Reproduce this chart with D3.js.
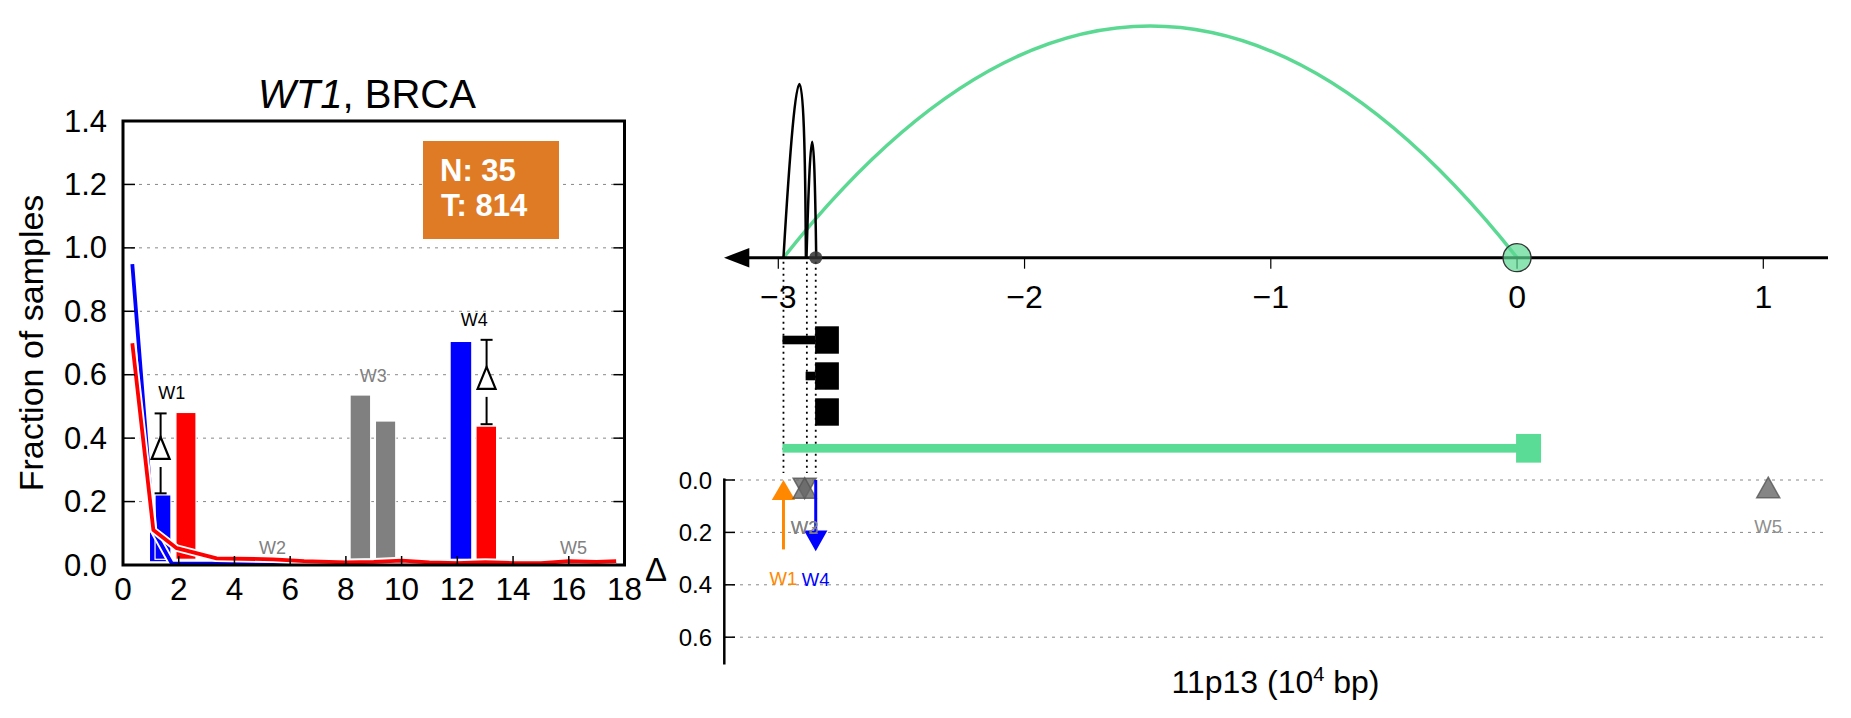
<!DOCTYPE html>
<html><head><meta charset="utf-8">
<script src="https://cdn.jsdelivr.net/npm/d3@7"></script>
<style>body{margin:0;background:#fff;} svg text{font-family:"Liberation Sans",Arial,Helvetica,sans-serif;}</style>
</head><body>
<svg id="c" width="1851" height="718" style="background:#fff"></svg>
<script>
// ---------------- DATA ----------------
// Left panel: fraction of samples per window
const yTicksL = [0, 0.2, 0.4, 0.6, 0.8, 1.0, 1.2, 1.4];
const xTicksL = [0, 2, 4, 6, 8, 10, 12, 14, 16, 18];
const barX0 = [1.15, 1.90, 8.15, 9.06, 11.74, 12.67];
const barX1 = [1.72, 2.62, 8.89, 9.79, 12.52, 13.41];
const barVal = [0.221, 0.481, 0.536, 0.454, 0.705, 0.438];
const barKind = ["N", "T", "ns", "ns", "N", "T"];
const lowBarX = [0.97, 1.72];
const lowBarVal = 0.11;
const blueLineX = [0.334, 1.09, 1.75, 2.5, 3.5, 6, 9, 12, 15, 17.7];
const blueLineY = [0.949, 0.110, 0.005, 0.004, 0.004, 0.003, 0.003, 0.003, 0.003, 0.003];
const redLineX = [0.334, 1.09, 1.93, 3.36, 5.39, 6.5, 8.0, 9.0, 10.0, 11.0, 12.0, 13.0, 14.0, 15.0, 16.0, 17.0, 17.7];
const redLineY = [0.699, 0.110, 0.053, 0.021, 0.018, 0.012, 0.008, 0.010, 0.014, 0.008, 0.006, 0.009, 0.006, 0.006, 0.012, 0.010, 0.012];
const deltaMarkX = [1.35, 13.05];
const deltaMarkY = [0.369, 0.59];
const deltaLo = [0.226, 0.444];
const deltaHi = [0.478, 0.71];
const windows = ["W1", "W2", "W3", "W4", "W5"];
const winLabelX = [1.75, 5.37, 8.98, 12.61, 16.17];
const winLabelY = [0.542, 0.055, 0.596, 0.772, 0.055];
const winSig = [true, false, false, true, false];
const nNormal = 35, nTumor = 814;

// Right panel: genomic track (10^4 bp)
const xTicksR = [-3, -2, -1, 0, 1];
const arcFrom = [-2.979, -2.979, -2.8855];
const arcTo = [0, -2.888, -2.846];
const arcCtrl = [-1.4895, -2.895, -2.859];
const arcH = [1.0, 0.75, 0.50];
const arcColor = ["#5bd993", "#000", "#000"];
const markPos = [-2.979, -2.884, -2.848];
const tssPos = 0;          // circle
const dotPos = -2.848;     // small dark dot
const utrStart = [-2.983, -2.889, null];
const cdsStart = [-2.8505, -2.8505, -2.8505];
const cdsEnd = [-2.754, -2.754, -2.754];
const geneSpan = [-2.983, 0];
const geneEnd = [-0.004, 0.0975];
// Delta panel
const yTicksD = [0.0, 0.2, 0.4, 0.6];
const winPos = [-2.979, -2.893, -2.893, -2.848, 1.02];
const winDelta = [0.265, 0.02, 0.02, 0.272, 0.018];
const winKind = ["up", "nsdown", "nsup", "down", "nsup"];

// ---------------- DRAW ----------------
const svg = d3.select("#c");

// ===== Left panel =====
const xL = d3.scaleLinear([0, 18], [123, 624.5]);
const yL = d3.scaleLinear([0, 1.4], [565, 121]);
const L = svg.append("g");

// gridlines
L.selectAll(".gl").data(yTicksL.filter(d => d > 0 && d < 1.4)).join("line")
  .attr("x1", xL(0)).attr("x2", xL(18)).attr("y1", d => yL(d)).attr("y2", d => yL(d))
  .attr("stroke", "#888").attr("stroke-width", 1).attr("stroke-dasharray", "3,5");

// lower blue block
L.append("rect").attr("x", xL(lowBarX[0])).attr("width", xL(lowBarX[1]) - xL(lowBarX[0]))
  .attr("y", yL(lowBarVal)).attr("height", yL(0.012) - yL(lowBarVal)).attr("fill", "#0000ff");

const barColor = {N: "#0000ff", T: "#ff0000", ns: "#808080"};
const barBase = 0.018;
L.selectAll(".bar").data(barVal).join("rect")
  .attr("x", (d, i) => xL(barX0[i])).attr("width", (d, i) => xL(barX1[i]) - xL(barX0[i]))
  .attr("y", d => yL(d)).attr("height", d => yL(barBase) - yL(d))
  .attr("fill", (d, i) => barColor[barKind[i]]).attr("stroke", "#fff").attr("stroke-width", 1.2);

// lines with white casing
function drawLine(xs, ys, col) {
  const pts = xs.map((x, i) => [xL(x), yL(ys[i])]);
  const ln = d3.line();
  L.append("path").attr("d", ln(pts)).attr("fill", "none").attr("stroke", "#fff").attr("stroke-width", 7.5).attr("stroke-linejoin", "round");
  L.append("path").attr("d", ln(pts)).attr("fill", "none").attr("stroke", col).attr("stroke-width", 3.8).attr("stroke-linejoin", "round");
}
drawLine(blueLineX, blueLineY, "#0000ff");
drawLine(redLineX, redLineY, "#ff0000");

// delta markers with error bars
deltaMarkX.forEach((x, i) => {
  const px = xL(x), cy = yL(deltaMarkY[i]);
  const top = yL(deltaHi[i]), bot = yL(deltaLo[i]);
  const g = L.append("g").attr("stroke", "#000").attr("stroke-width", 2).attr("fill", "none");
  g.append("line").attr("x1", px - 6).attr("x2", px + 6).attr("y1", top).attr("y2", top);
  g.append("line").attr("x1", px - 6).attr("x2", px + 6).attr("y1", bot).attr("y2", bot);
  g.append("line").attr("x1", px).attr("x2", px).attr("y1", top).attr("y2", cy - 11);
  g.append("line").attr("x1", px).attr("x2", px).attr("y1", cy + 19).attr("y2", bot);
  g.append("path").attr("d", `M${px},${cy - 11}L${px + 9},${cy + 11}L${px - 9},${cy + 11}Z`)
    .attr("fill", "#fff").attr("stroke-width", 2.2);
});

// window labels
L.selectAll(".wl").data(windows).join("text")
  .attr("x", (d, i) => xL(winLabelX[i])).attr("y", (d, i) => yL(winLabelY[i]))
  .attr("text-anchor", "middle").attr("dominant-baseline", "central")
  .attr("font-size", 18).attr("fill", (d, i) => winSig[i] ? "#000" : "#808080").text(d => d);

// frame
L.append("rect").attr("x", xL(0)).attr("y", yL(1.4)).attr("width", xL(18) - xL(0)).attr("height", yL(0) - yL(1.4))
  .attr("fill", "none").attr("stroke", "#000").attr("stroke-width", 3);

// ticks
L.selectAll(".ty").data(yTicksL.filter(d => d > 0 && d < 1.4)).join("g").each(function (d) {
  const g = d3.select(this);
  g.append("line").attr("x1", xL(0)).attr("x2", xL(0) + 12).attr("y1", yL(d)).attr("y2", yL(d)).attr("stroke", "#000").attr("stroke-width", 1.5);
  g.append("line").attr("x1", xL(18)).attr("x2", xL(18) - 11).attr("y1", yL(d)).attr("y2", yL(d)).attr("stroke", "#000").attr("stroke-width", 1.5);
});
L.selectAll(".tx").data(xTicksL.filter(d => d > 0 && d < 18)).join("line")
  .attr("x1", d => xL(d)).attr("x2", d => xL(d)).attr("y1", yL(0)).attr("y2", yL(0) - 9)
  .attr("stroke", "#000").attr("stroke-width", 1.5);
L.selectAll(".tyl").data(yTicksL).join("text")
  .attr("x", 107).attr("y", d => yL(d) + 10.5).attr("text-anchor", "end")
  .attr("font-size", 31).text(d => d3.format(".1f")(d));
L.selectAll(".txl").data(xTicksL).join("text")
  .attr("x", d => xL(d)).attr("y", 600).attr("text-anchor", "middle")
  .attr("font-size", 31.5).text(d => d);

// title
const tt = L.append("text").attr("x", 367).attr("y", 108).attr("text-anchor", "middle").attr("font-size", 40);
tt.append("tspan").attr("font-style", "italic").text("WT1");
tt.append("tspan").text(", BRCA");

// y label
L.append("text").attr("transform", "translate(31,343) rotate(-90)").attr("text-anchor", "middle")
  .attr("dominant-baseline", "central").attr("font-size", 34).text("Fraction of samples");

// N/T box
L.append("rect").attr("x", 423).attr("y", 141).attr("width", 136).attr("height", 98).attr("fill", "#df7b24");
L.append("text").attr("x", 440).attr("y", 181).attr("font-size", 31).attr("font-weight", "bold").attr("fill", "#fff").text("N: " + nNormal);
L.append("text").attr("x", 441).attr("y", 216).attr("font-size", 31).attr("font-weight", "bold").attr("fill", "#fff").text("T: " + nTumor);

// ===== Right panel =====
const xR = d3.scaleLinear([-3, 1], [778.3, 1763.3]);
const axisY = 257.7;
const yArc = d3.scaleLinear([0, 1], [axisY, 26]);
const yD = d3.scaleLinear([0, 0.7], [480, 663.4]);
const R = svg.append("g");

// delta gridlines
R.selectAll(".gd").data(yTicksD).join("line")
  .attr("x1", 724).attr("x2", 1828).attr("y1", d => yD(d)).attr("y2", d => yD(d))
  .attr("stroke", "#888").attr("stroke-width", 1).attr("stroke-dasharray", "3,5");

// dotted guide lines
R.selectAll(".dl").data(markPos).join("line")
  .attr("x1", d => xR(d)).attr("x2", d => xR(d)).attr("y1", axisY + 4).attr("y2", 473)
  .attr("stroke", "#000").attr("stroke-width", 1.8).attr("stroke-dasharray", "2,4");

// arcs
arcFrom.forEach((a, i) => {
  const x0 = xR(a), x1 = xR(arcTo[i]), cx = xR(arcCtrl[i]), cy = yArc(2 * arcH[i]);
  R.append("path").attr("d", `M${x0},${axisY}Q${cx},${cy} ${x1},${axisY}`)
    .attr("fill", "none").attr("stroke", arcColor[i]).attr("stroke-width", i === 0 ? 3.5 : 2.5);
});

// main axis
R.append("line").attr("x1", 740).attr("x2", 1828).attr("y1", axisY).attr("y2", axisY).attr("stroke", "#000").attr("stroke-width", 3);
R.append("path").attr("d", `M724,${axisY}L749.3,${axisY - 9.7}L749.3,${axisY + 9.7}Z`).attr("fill", "#000");
R.selectAll(".tr").data(xTicksR).join("line")
  .attr("x1", d => xR(d)).attr("x2", d => xR(d)).attr("y1", axisY).attr("y2", axisY + 11)
  .attr("stroke", "#000").attr("stroke-width", 1.2);
R.selectAll(".trl").data(xTicksR).join("text")
  .attr("x", d => xR(d)).attr("y", 308).attr("text-anchor", "middle").attr("font-size", 32)
  .text(d => d3.format("d")(d));

// TSS circle and dot
R.append("circle").attr("cx", xR(tssPos)).attr("cy", axisY).attr("r", 14)
  .attr("fill", "#5bd993").attr("fill-opacity", 0.7).attr("stroke", "#333").attr("stroke-width", 1.3);
R.append("circle").attr("cx", xR(dotPos)).attr("cy", axisY).attr("r", 6.5).attr("fill", "#333").attr("fill-opacity", 0.85);

// transcripts
const rowY = [340, 376, 412];
cdsStart.forEach((s, i) => {
  if (utrStart[i] !== null)
    R.append("rect").attr("x", xR(utrStart[i])).attr("width", xR(s) - xR(utrStart[i]))
      .attr("y", rowY[i] - 4.3).attr("height", 8.6).attr("fill", "#000");
  R.append("rect").attr("x", xR(s)).attr("width", xR(cdsEnd[i]) - xR(s))
    .attr("y", rowY[i] - 13.7).attr("height", 27.4).attr("fill", "#000");
});
// gene span bar
R.append("rect").attr("x", xR(geneSpan[0])).attr("width", xR(geneSpan[1]) - xR(geneSpan[0]))
  .attr("y", 448.3 - 4.35).attr("height", 8.7).attr("fill", "#5bdc96");
R.append("rect").attr("x", xR(geneEnd[0])).attr("width", xR(geneEnd[1]) - xR(geneEnd[0]))
  .attr("y", 448.3 - 14.35).attr("height", 28.7).attr("fill", "#5bdc96");

// delta axis
R.append("line").attr("x1", 724.3).attr("x2", 724.3).attr("y1", yD(-0.006)).attr("y2", 664.5).attr("stroke", "#000").attr("stroke-width", 2.5);
R.selectAll(".td").data(yTicksD).join("line")
  .attr("x1", 724.3).attr("x2", 735).attr("y1", d => yD(d)).attr("y2", d => yD(d)).attr("stroke", "#000").attr("stroke-width", 1.5);
R.selectAll(".tdl").data(yTicksD).join("text")
  .attr("x", 712).attr("y", d => yD(d) + 8.5).attr("text-anchor", "end").attr("font-size", 24)
  .text(d => d3.format(".1f")(d));
R.append("text").attr("x", 656).attr("y", 581).attr("text-anchor", "middle").attr("font-size", 33).text("Δ");

// markers / arrows
const winCol = {up: "#ff8800", down: "#0000ff", nsup: "#666", nsdown: "#666"};
let labelY = [];
winPos.forEach((p, i) => {
  const x = xR(p), k = winKind[i];
  if (k === "up") {
    const tail = yD(winDelta[i]), apex = yD(0);
    R.append("line").attr("x1", x).attr("x2", x).attr("y1", tail).attr("y2", apex + 18).attr("stroke", winCol[k]).attr("stroke-width", 3);
    R.append("path").attr("d", `M${x},${apex}L${x + 11.7},${apex + 20}L${x - 11.7},${apex + 20}Z`).attr("fill", winCol[k]);
    labelY.push(tail + 29);
  } else if (k === "down") {
    const tail = yD(0), apex = yD(winDelta[i]);
    R.append("line").attr("x1", x).attr("x2", x).attr("y1", tail).attr("y2", apex - 18).attr("stroke", winCol[k]).attr("stroke-width", 3);
    R.append("path").attr("d", `M${x},${apex}L${x + 11.7},${apex - 20.7}L${x - 11.7},${apex - 20.7}Z`).attr("fill", winCol[k]);
    labelY.push(apex + 28);
  } else {
    const cy = yD(winDelta[i]) + 3;
    const d = k === "nsup"
      ? `M${x},${cy - 10.5}L${x + 11.5},${cy + 10}L${x - 11.5},${cy + 10}Z`
      : `M${x},${cy + 10.5}L${x + 11.5},${cy - 10}L${x - 11.5},${cy - 10}Z`;
    R.append("path").attr("d", d).attr("fill", "#666").attr("fill-opacity", 0.8).attr("stroke", "#555").attr("stroke-width", 1.5).attr("stroke-opacity", 0.8);
    labelY.push(cy + 39);
  }
});
R.selectAll(".wr").data(windows).join("text")
  .attr("x", (d, i) => xR(winPos[i])).attr("y", (d, i) => labelY[i])
  .attr("text-anchor", "middle").attr("dominant-baseline", "central").attr("font-size", 18.5)
  .attr("fill", (d, i) => winKind[i] === "up" ? "#ff8800" : winKind[i] === "down" ? "#0000ff" : "#808080")
  .attr("fill-opacity", (d, i) => winKind[i].startsWith("ns") ? 0.9 : 1)
  .text(d => d);

// x label
const xl = R.append("text").attr("x", 1275.5).attr("y", 693).attr("text-anchor", "middle").attr("font-size", 32);
xl.append("tspan").text("11p13 (10");
xl.append("tspan").attr("font-size", 20).attr("dy", -12).text("4");
xl.append("tspan").attr("dy", 12).text(" bp)");
</script>
</body></html>
